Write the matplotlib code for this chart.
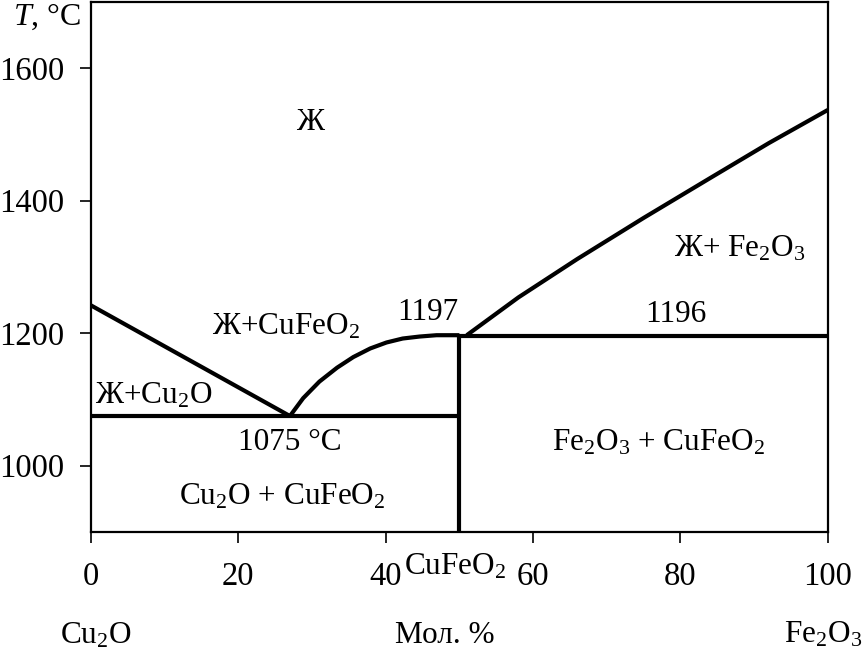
import numpy as np
import matplotlib
matplotlib.use("Agg")
import matplotlib.pyplot as plt

plt.rcParams['font.family'] = ['Liberation Serif', 'DejaVu Serif']
plt.rcParams['mathtext.fontset'] = 'custom'
plt.rcParams['mathtext.rm'] = 'Liberation Serif'
plt.rcParams['mathtext.it'] = 'Liberation Serif:italic'

# liquidus Cu2O
liq_cu2o_x = [0, 27]
liq_cu2o_t = [1242, 1075]
# liquidus CuFeO2 (dome)
liq_cufeo2_x = [27, 28.8, 31, 33.4, 35.6, 37.9, 40.1, 42.3, 44.6, 46.9, 50]
liq_cufeo2_t = [1075, 1102, 1127, 1148, 1164, 1177, 1186, 1192, 1195, 1197, 1197]
# liquidus Fe2O3
liq_fe2o3_x = [51, 58, 66, 75, 84, 92, 100]
liq_fe2o3_t = [1197, 1254, 1312, 1374, 1434, 1487, 1537]
# invariant lines
eut_x = [0, 50]
eut_t = [1075, 1075]
per_x = [50, 100]
per_t = [1196, 1196]
comp_x = [50, 50]
comp_t = [900, 1197]

xticks = [0, 20, 40, 60, 80, 100]
yticks = [1000, 1200, 1400, 1600]

fig = plt.figure(figsize=(8.65, 6.57), dpi=100)
ax = fig.add_axes([0.1052, 0.1903, 0.8518, 0.8067])

lw = 3.0
for xs, ts in [(liq_cu2o_x, liq_cu2o_t), (liq_cufeo2_x, liq_cufeo2_t),
               (liq_fe2o3_x, liq_fe2o3_t), (eut_x, eut_t), (per_x, per_t),
               (comp_x, comp_t)]:
    ax.plot(xs, ts, '-k', lw=lw, solid_capstyle='butt', clip_on=False)

ax.set_xlim(0, 100)
ax.set_ylim(900, 1700)
ax.set_xticks(xticks)
ax.set_yticks(yticks)
ax.tick_params(direction='out', length=8, width=1.2, labelsize=23.5, pad=11)
ax.tick_params(axis='x', pad=13)
for s in ax.spines.values():
    s.set_linewidth(1.6)

fs = 22.5
ax.text(29.7, 1518, 'Ж', fontsize=fs, ha='center', va='center')
ax.text(88, 1328, 'Ж+ Fe$_2$O$_3$', fontsize=fs, ha='center', va='center')
ax.text(45.7, 1232, '1197', fontsize=fs, ha='center', va='center')
ax.text(79.4, 1228, '1196', fontsize=fs, ha='center', va='center')
ax.text(26.5, 1210, 'Ж+CuFeO$_2$', fontsize=fs, ha='center', va='center')
ax.text(8.5, 1106, 'Ж+Cu$_2$O', fontsize=fs, ha='center', va='center')
ax.text(27, 1035, '1075 °C', fontsize=fs, ha='center', va='center')
ax.text(26, 953, 'Cu$_2$O + CuFeO$_2$', fontsize=fs, ha='center', va='center')
ax.text(77, 1035, 'Fe$_2$O$_3$ + CuFeO$_2$', fontsize=fs, ha='center', va='center')

# labels outside the axes
ax.text(49.4, 848, 'CuFeO$_2$', fontsize=fs, ha='center', va='center')
ax.text(0.6, 743, 'Cu$_2$O', fontsize=fs, ha='center', va='center')
ax.text(48, 743, 'Мол. %', fontsize=fs, ha='center', va='center')
ax.text(99.3, 745, 'Fe$_2$O$_3$', fontsize=fs, ha='center', va='center')
ax.text(-6.0, 1678, '$T$, °C', fontsize=23, ha='center', va='center')

fig.savefig('out.png', dpi=100)
